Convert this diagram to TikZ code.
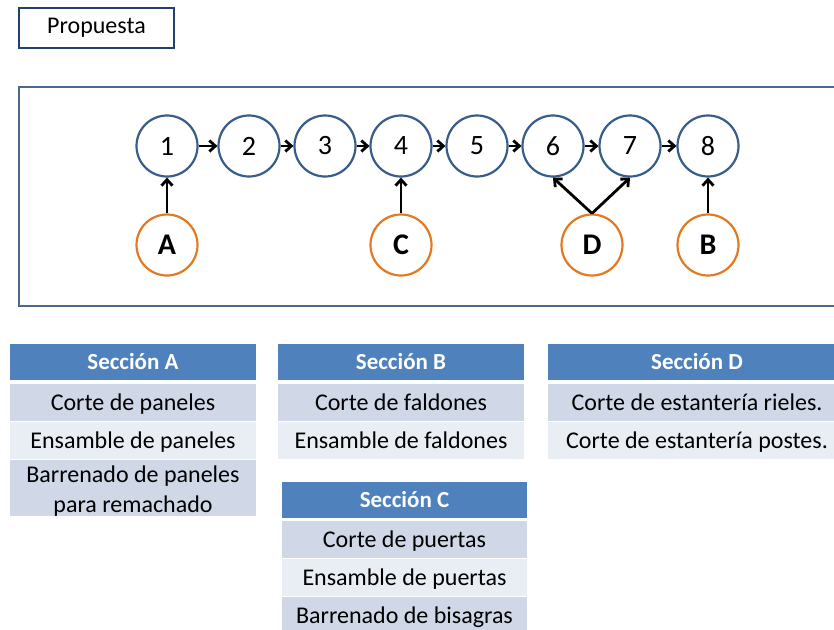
\documentclass[tikz,border=0pt]{standalone}
\usepackage{fontspec}
\setmainfont{Carlito}
\usetikzlibrary{positioning, arrows.meta}

\definecolor{opblue}{HTML}{385D8A}
\definecolor{secorange}{HTML}{E37A22}
\definecolor{framegray}{HTML}{4A6890}
\definecolor{titleblue}{HTML}{23416E}
\definecolor{headblue}{HTML}{4F81BD}
\definecolor{rowdark}{HTML}{D0D8E8}
\definecolor{rowlight}{HTML}{E9EDF4}

\tikzset{opnode/.style={circle, draw=opblue, fill=white, line width=2.2pt, minimum size=61pt,
                        inner sep=0pt, font=\fontsize{28}{30}\selectfont}}
\tikzset{secnode/.style={circle, draw=secorange, fill=white, line width=2.2pt, minimum size=61pt,
                         inner sep=0pt, font=\fontsize{30}{30}\selectfont\bfseries}}
\tikzset{flow/.style={line width=2.8pt, -{Straight Barb[length=6pt, width=11pt, line width=2.8pt]}, black}}
\tikzset{tabhead/.style={fill=headblue, text=white, minimum height=36pt, inner sep=0pt, outer sep=0pt,
                         text height=15pt, text depth=0pt, font=\fontsize{23}{28}\selectfont\bfseries}}
\tikzset{tabrow/.style={minimum height=37pt, inner sep=0pt, outer sep=0pt, align=center,
                        text height=15pt, text depth=0pt, font=\fontsize{24}{30}\selectfont}}

\begin{document}
\begin{tikzpicture}[x=1pt, y=-1pt]

\def\ytop{146}
\def\ybot{245}
\def\wA{246pt}
\def\wB{246pt}
\def\wC{245pt}
\def\wD{298pt}

\clip (0,0) rectangle (834,629);
\fill[white] (0,0) rectangle (834,629);

% title
\node[draw=titleblue, line width=2.2pt, minimum width=155pt, minimum height=40pt, inner sep=0pt,
      font=\fontsize{24}{28}\selectfont] (propuesta) at (96.5,28) {Propuesta};

% frame
\draw[framegray, line width=2.5pt] (19,87) rectangle (850,306);

% operations
\foreach \n/\x in {1/167, 2/249, 3/325, 4/401, 5/477, 6/553, 7/630, 8/708}
  \node[opnode] (op\n) at (\x,\ytop) {\n};

% sections
\node[secnode] (secA) at (167,\ybot) {A};
\node[secnode] (secC) at (401,\ybot) {C};
\node[secnode] (secD) at (592,\ybot) {D};
\node[secnode] (secB) at (708,\ybot) {B};

% flow between operations
\foreach \a/\b in {1/2, 2/3, 3/4, 4/5, 5/6, 6/7, 7/8}
  \draw[flow] (op\a) -- (op\b);

% sections into operations
\draw[flow] (secA) -- (op1);
\draw[flow] (secC) -- (op4);
\draw[flow] (secB) -- (op8);
\draw[flow] (secD.north) -- (op6.south);
\draw[flow] (secD.north) -- (op7.south);

% table A
\node[tabhead, minimum width=\wA] (tabA) at (133,362) {Sección A};
\node[tabrow, fill=rowdark, minimum width=\wA, below=4pt of tabA] (tabA1) {Corte de paneles};
\node[tabrow, fill=rowlight, minimum width=\wA, below=1pt of tabA1] (tabA2) {Ensamble de paneles};
\node[tabrow, fill=rowdark, minimum width=\wA, minimum height=56pt, text height=49pt, below=1pt of tabA2] (tabA3)
     {Barrenado de paneles\\para remachado};

% table B
\node[tabhead, minimum width=\wB] (tabB) at (401,362) {Sección B};
\node[tabrow, fill=rowdark, minimum width=\wB, below=4pt of tabB] (tabB1) {Corte de faldones};
\node[tabrow, fill=rowlight, minimum width=\wB, below=1pt of tabB1] (tabB2) {Ensamble de faldones};

% table C
\node[tabhead, minimum width=\wC] (tabC) at (404.5,500) {Sección C};
\node[tabrow, fill=rowdark, minimum width=\wC, below=3pt of tabC] (tabC1) {Corte de puertas};
\node[tabrow, fill=rowlight, minimum width=\wC, below=1pt of tabC1] (tabC2) {Ensamble de puertas};
\node[tabrow, fill=rowdark, minimum width=\wC, below=1pt of tabC2] (tabC3) {Barrenado de bisagras};

% table D
\node[tabhead, minimum width=\wD] (tabD) at (697,362) {Sección D};
\node[tabrow, fill=rowdark, minimum width=\wD, below=4pt of tabD] (tabD1) {Corte de estantería rieles.};
\node[tabrow, fill=rowlight, minimum width=\wD, below=1pt of tabD1] (tabD2) {Corte de estantería postes.};

\end{tikzpicture}
\end{document}
